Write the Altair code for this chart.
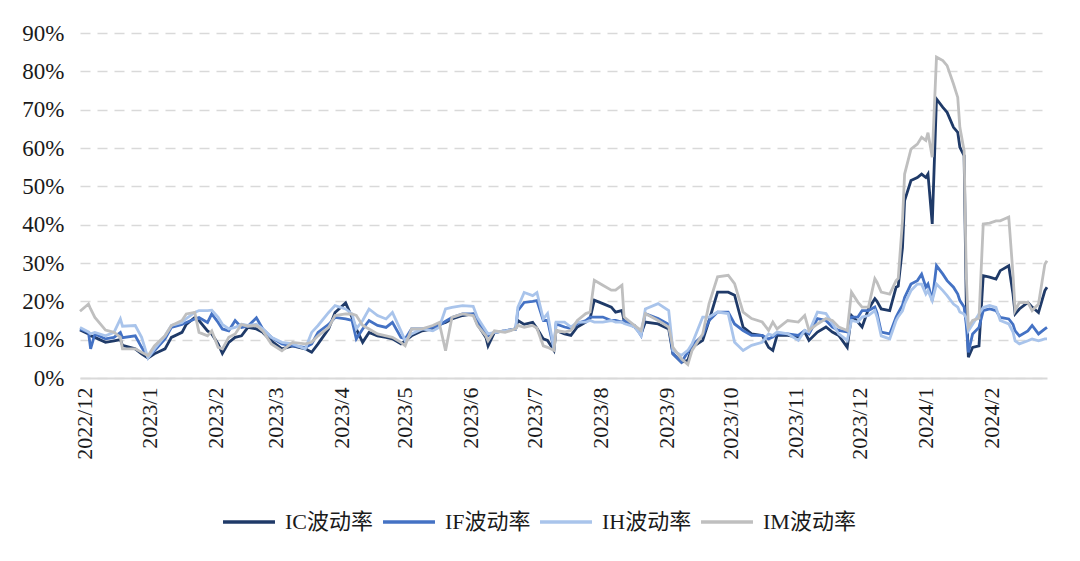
import altair as alt
import pandas as pd

dates = [
    "2022-12-01", "2022-12-05", "2022-12-06", "2022-12-08", "2022-12-13", "2022-12-17", "2022-12-20", "2022-12-21",
    "2022-12-27", "2022-12-30", "2023-01-02", "2023-01-05", "2023-01-10", "2023-01-13", "2023-01-18", "2023-01-20",
    "2023-01-24", "2023-01-26", "2023-01-30", "2023-02-01", "2023-02-04", "2023-02-06", "2023-02-09", "2023-02-12",
    "2023-02-15", "2023-02-18", "2023-02-22", "2023-02-25", "2023-03-01", "2023-03-06", "2023-03-11", "2023-03-17",
    "2023-03-20", "2023-03-23", "2023-03-28", "2023-03-31", "2023-04-05", "2023-04-08", "2023-04-10", "2023-04-13",
    "2023-04-16", "2023-04-20", "2023-04-24", "2023-04-27", "2023-05-01", "2023-05-03", "2023-05-06", "2023-05-11",
    "2023-05-16", "2023-05-19", "2023-05-22", "2023-05-25", "2023-05-30", "2023-06-04", "2023-06-06", "2023-06-10",
    "2023-06-11", "2023-06-14", "2023-06-19", "2023-06-24", "2023-06-25", "2023-06-28", "2023-07-02", "2023-07-04",
    "2023-07-07", "2023-07-09", "2023-07-12", "2023-07-13", "2023-07-17", "2023-07-20", "2023-07-23", "2023-07-27",
    "2023-07-29", "2023-07-31", "2023-08-04", "2023-08-08", "2023-08-10", "2023-08-13", "2023-08-14", "2023-08-19",
    "2023-08-22", "2023-08-24", "2023-08-30", "2023-09-04", "2023-09-06", "2023-09-10", "2023-09-13", "2023-09-15",
    "2023-09-20", "2023-09-23", "2023-09-27", "2023-10-02", "2023-10-05", "2023-10-09", "2023-10-13", "2023-10-18",
    "2023-10-21", "2023-10-23", "2023-10-25", "2023-10-30", "2023-11-04", "2023-11-07", "2023-11-09", "2023-11-13",
    "2023-11-17", "2023-11-20", "2023-11-23", "2023-11-27", "2023-11-29", "2023-12-02", "2023-12-04", "2023-12-07",
    "2023-12-10", "2023-12-11", "2023-12-13", "2023-12-17", "2023-12-20", "2023-12-21", "2023-12-23", "2023-12-24",
    "2023-12-27", "2023-12-30", "2024-01-01", "2024-01-03", "2024-01-04", "2024-01-06", "2024-01-08", "2024-01-11",
    "2024-01-13", "2024-01-16", "2024-01-18", "2024-01-19", "2024-01-21", "2024-01-22", "2024-01-23", "2024-01-25",
    "2024-01-28", "2024-01-30", "2024-02-02", "2024-02-05", "2024-02-07", "2024-02-11", "2024-02-13", "2024-02-14",
    "2024-02-16", "2024-02-20", "2024-02-22", "2024-02-25", "2024-02-28", "2024-02-29",
]

ic_vol = [
    12.5, 11.5, 11.0, 10.6, 9.3, 9.7, 10.0, 8.5, 7.6, 6.3, 5.2, 6.3, 7.6, 10.6, 11.9, 14.0,
    15.8, 15.0, 12.3, 11.5, 8.9, 6.4, 9.3, 10.6, 11.0, 13.2, 12.8, 11.9, 9.7, 7.6, 8.4, 7.6,
    6.7, 8.9, 12.8, 17.1, 19.6, 15.8, 12.8, 9.3, 11.9, 11.0, 10.6, 10.2, 8.9, 9.7, 11.0, 12.3,
    12.8, 14.0, 14.5, 15.4, 16.3, 16.7, 14.0, 10.6, 8.4, 11.9, 12.3, 12.8, 15.0, 14.0, 14.5, 13.0,
    10.2, 9.8, 7.2, 12.4, 11.5, 11.1, 13.3, 14.6, 15.5, 20.3, 19.4, 18.5, 17.2, 17.6, 15.0, 13.3,
    11.5, 14.6, 14.1, 12.8, 6.3, 4.1, 4.6, 8.0, 9.8, 15.0, 22.4, 22.4, 21.6, 13.3, 11.5, 11.1,
    8.0, 7.2, 11.1, 11.1, 10.7, 12.0, 9.8, 12.0, 13.3, 12.0, 11.1, 8.0, 16.3, 14.6, 13.3, 18.0,
    20.7, 20.0, 18.0, 17.6, 23.7, 24.0, 34.0, 46.3, 51.5, 52.3, 53.2, 52.3, 53.2, 40.2, 72.8, 70.6,
    69.3, 65.4, 64.1, 60.2, 58.0, 20.0, 5.4, 8.0, 8.4, 26.7, 26.3, 25.8, 28.0, 29.3, 21.9, 16.7,
    18.0, 19.7, 18.5, 17.1, 22.8, 23.7,
]

if_vol = [
    12.8, 11.9, 7.6, 11.5, 10.2, 10.6, 11.9, 10.5, 11.0, 8.0, 5.4, 7.1, 10.2, 13.2, 14.0, 14.5,
    15.4, 15.8, 14.5, 16.7, 14.5, 12.8, 12.3, 15.0, 13.2, 13.5, 15.7, 12.8, 10.6, 8.9, 8.4, 8.0,
    8.9, 11.9, 14.0, 15.8, 15.4, 15.0, 10.2, 12.8, 15.0, 13.7, 13.2, 14.5, 10.6, 10.2, 12.8, 12.8,
    13.2, 13.7, 14.8, 15.8, 16.7, 16.7, 15.0, 11.5, 11.0, 11.9, 12.3, 12.8, 17.6, 19.7, 20.0, 20.2,
    15.0, 15.0, 7.5, 14.1, 13.3, 12.9, 14.2, 15.0, 15.9, 15.9, 15.9, 15.0, 15.0, 14.6, 15.0, 13.7,
    11.1, 16.8, 15.5, 14.0, 6.3, 4.1, 6.8, 8.5, 11.1, 15.0, 17.2, 17.2, 14.1, 12.4, 11.1, 11.1,
    10.2, 10.7, 11.5, 11.5, 11.1, 12.4, 11.5, 15.5, 15.0, 13.3, 12.4, 12.0, 15.9, 15.9, 17.6, 17.6,
    18.5, 17.0, 12.0, 11.5, 15.9, 17.0, 19.0, 21.0, 24.5, 25.4, 27.1, 23.7, 24.5, 20.2, 29.3, 27.1,
    25.4, 23.7, 21.9, 20.2, 18.5, 14.0, 6.7, 11.5, 13.2, 17.6, 18.0, 17.6, 15.8, 15.4, 14.0, 12.3,
    11.0, 12.3, 13.7, 11.5, 12.8, 13.2,
]

ih_vol = [
    13.2, 12.0, 11.5, 11.9, 11.0, 11.9, 15.4, 13.5, 13.7, 10.6, 5.2, 7.6, 11.0, 13.7, 14.5, 15.5,
    17.1, 17.6, 17.6, 17.7, 15.8, 14.0, 12.8, 13.2, 14.0, 13.7, 14.0, 12.8, 10.6, 9.3, 8.9, 7.6,
    11.9, 13.7, 17.1, 18.9, 18.0, 16.7, 12.8, 15.0, 18.0, 16.3, 15.4, 17.1, 12.3, 9.7, 11.5, 12.8,
    12.3, 13.2, 18.0, 18.4, 18.9, 18.7, 15.8, 12.3, 11.5, 11.9, 12.3, 12.8, 18.4, 22.3, 21.5, 22.3,
    15.4, 16.8, 7.6, 14.6, 14.6, 13.3, 14.6, 14.6, 15.0, 14.6, 14.6, 15.0, 14.6, 14.6, 14.2, 13.3,
    11.1, 18.0, 19.4, 17.6, 7.2, 5.9, 7.2, 8.9, 15.9, 15.9, 17.2, 16.8, 9.3, 7.2, 8.5, 9.3,
    11.5, 11.1, 12.0, 11.5, 9.8, 12.4, 12.0, 17.2, 16.8, 14.2, 11.5, 9.8, 15.0, 14.6, 15.9, 16.3,
    17.6, 16.0, 11.0, 10.2, 15.0, 16.0, 17.5, 19.3, 22.8, 24.5, 24.5, 21.9, 22.8, 20.2, 24.5, 22.8,
    21.5, 19.3, 18.5, 17.2, 16.7, 15.7, 12.3, 14.0, 16.7, 18.4, 18.9, 18.4, 15.0, 14.1, 12.0, 9.7,
    8.9, 9.7, 10.2, 9.7, 10.2, 10.2,
]

im_vol = [
    17.4, 19.3, 18.0, 15.8, 12.5, 11.9, 10.6, 7.6, 7.6, 6.7, 5.8, 8.4, 11.0, 13.7, 15.0, 16.7,
    17.1, 11.9, 11.0, 12.3, 8.0, 7.6, 10.6, 11.5, 14.0, 13.5, 13.7, 12.3, 8.9, 7.1, 9.3, 8.9,
    9.3, 11.0, 13.2, 16.3, 16.7, 16.7, 16.3, 13.7, 12.8, 11.5, 11.0, 10.6, 9.3, 8.4, 12.8, 12.8,
    13.7, 14.5, 7.1, 15.8, 16.7, 16.3, 13.7, 11.0, 9.7, 12.3, 11.9, 12.8, 13.7, 13.2, 13.7, 13.0,
    8.4, 8.0, 7.2, 12.4, 12.0, 12.4, 15.0, 16.8, 17.2, 25.5, 24.2, 22.9, 22.9, 24.2, 15.9, 13.7,
    12.4, 16.8, 15.0, 13.3, 8.0, 5.0, 3.5, 7.2, 11.5, 19.4, 26.4, 26.8, 24.6, 17.2, 15.5, 14.6,
    12.4, 14.6, 12.8, 15.0, 14.6, 16.3, 12.4, 14.1, 15.5, 15.0, 13.3, 12.4, 22.4, 19.8, 18.5, 18.5,
    25.9, 25.0, 22.4, 21.9, 25.4, 26.0, 41.0, 53.2, 59.7, 61.0, 62.8, 62.0, 64.0, 57.6, 83.7, 82.8,
    81.5, 76.7, 73.2, 65.4, 59.3, 27.0, 13.2, 15.0, 15.6, 40.2, 40.4, 41.0, 41.0, 42.0, 27.0, 17.6,
    19.7, 19.7, 17.6, 19.3, 29.7, 30.6,
]

series_names = ["IC波动率", "IF波动率", "IH波动率", "IM波动率"]
series_colors = ["#1F3A68", "#4472C4", "#A9C4EB", "#BFBFBF"]
y_ticks = [0.0, 0.1, 0.2, 0.3, 0.4, 0.5, 0.6, 0.7, 0.8, 0.9]
month_ticks = [
    (2022, 12), (2023, 1), (2023, 2), (2023, 3), (2023, 4), (2023, 5), (2023, 6), (2023, 7),
    (2023, 8), (2023, 9), (2023, 10), (2023, 11), (2023, 12), (2024, 1), (2024, 2),
]

all_series = [ic_vol, if_vol, ih_vol, im_vol]
for s in all_series:
    assert len(s) == len(dates), (len(s), len(dates))

rows = []
for name, vals in zip(series_names, all_series):
    for d, v in zip(dates, vals):
        rows.append({"date": d, "value": v / 100.0, "series": name})
df = pd.DataFrame(rows)

FONT = "Liberation Serif, Noto Sans CJK SC"
TEXT = "#1a1a1a"

x_axis = alt.Axis(
    values=[alt.DateTime(year=y, month=m, date=1, utc=True) for y, m in month_ticks],
    format="%Y/%-m",
    labelAngle=270,
    labelFont=FONT,
    labelFontSize=22,
    labelColor=TEXT,
    labelPadding=9,
    labelOffset=4,
    grid=False,
    ticks=False,
    domainColor="#D9D9D9",
    domainWidth=2,
    title=None,
    labelOverlap=False,
)

y_axis = alt.Axis(
    values=y_ticks,
    format=".0%",
    labelFont=FONT,
    labelFontSize=23,
    labelColor=TEXT,
    labelPadding=16,
    grid=True,
    gridColor="#D9D9D9",
    gridDash=[10, 7],
    gridWidth=1.6,
    domain=False,
    ticks=False,
    title=None,
)

legend = alt.Legend(
    title=None,
    orient="none",
    legendX=141,
    legendY=461,
    direction="horizontal",
    symbolType="stroke",
    symbolSize=2700,
    symbolStrokeWidth=3.5,
    labelFont=FONT,
    labelFontSize=22,
    labelColor=TEXT,
    labelOffset=8,
    columnPadding=2,
    labelLimit=300,
)

chart = (
    alt.Chart(df)
    .mark_line(strokeWidth=2.8)
    .encode(
        x=alt.X(
            "date:T",
            scale=alt.Scale(
                type="utc",
                domain=[
                    alt.DateTime(year=2022, month=12, date=1, utc=True),
                    alt.DateTime(year=2024, month=2, date=29, utc=True),
                ],
                nice=False,
            ),
            axis=x_axis,
        ),
        y=alt.Y("value:Q", scale=alt.Scale(domain=[0, 0.9], nice=False), axis=y_axis),
        color=alt.Color(
            "series:N",
            scale=alt.Scale(domain=series_names, range=series_colors),
            legend=legend,
        ),
    )
    .properties(
        width=967,
        height=345,
        autosize=alt.AutoSizeParams(type="none"),
        padding={"left": 80, "top": 33, "right": 33, "bottom": 183},
        background="white",
    )
    .configure_view(stroke=None)
)

chart.save("out.html", embed_options={"renderer": "svg", "actions": False})
